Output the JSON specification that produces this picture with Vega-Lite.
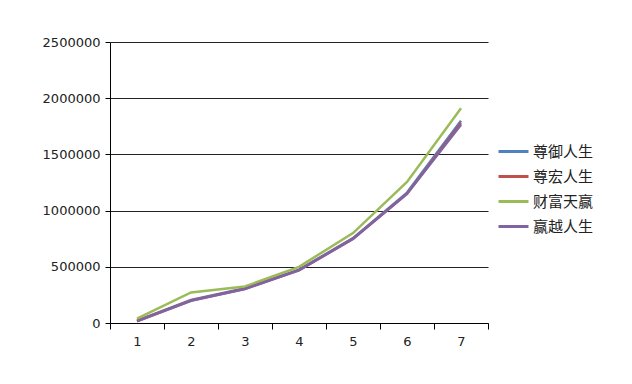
{
  "$schema": "https://vega.github.io/schema/vega-lite/v6.json",
  "autosize": "none",
  "width": 378,
  "height": 281,
  "padding": {"left": 110, "top": 42, "right": 144, "bottom": 61},
  "background": "white",
  "config": {
    "view": {"stroke": null},
    "font": "DejaVu Sans"
  },
  "data": {
    "values": [
      {"x": "1", "s": "尊御人生", "v": 20000},
      {"x": "2", "s": "尊御人生", "v": 205000},
      {"x": "3", "s": "尊御人生", "v": 310000},
      {"x": "4", "s": "尊御人生", "v": 475000},
      {"x": "5", "s": "尊御人生", "v": 755000},
      {"x": "6", "s": "尊御人生", "v": 1160000},
      {"x": "7", "s": "尊御人生", "v": 1800000},
      {"x": "1", "s": "尊宏人生", "v": 18000},
      {"x": "2", "s": "尊宏人生", "v": 200000},
      {"x": "3", "s": "尊宏人生", "v": 305000},
      {"x": "4", "s": "尊宏人生", "v": 470000},
      {"x": "5", "s": "尊宏人生", "v": 750000},
      {"x": "6", "s": "尊宏人生", "v": 1150000},
      {"x": "7", "s": "尊宏人生", "v": 1780000},
      {"x": "1", "s": "财富天赢", "v": 40000},
      {"x": "2", "s": "财富天赢", "v": 272000},
      {"x": "3", "s": "财富天赢", "v": 325000},
      {"x": "4", "s": "财富天赢", "v": 500000},
      {"x": "5", "s": "财富天赢", "v": 800000},
      {"x": "6", "s": "财富天赢", "v": 1255000},
      {"x": "7", "s": "财富天赢", "v": 1910000},
      {"x": "1", "s": "赢越人生", "v": 15000},
      {"x": "2", "s": "赢越人生", "v": 198000},
      {"x": "3", "s": "赢越人生", "v": 303000},
      {"x": "4", "s": "赢越人生", "v": 468000},
      {"x": "5", "s": "赢越人生", "v": 748000},
      {"x": "6", "s": "赢越人生", "v": 1148000},
      {"x": "7", "s": "赢越人生", "v": 1765000}
    ]
  },
  "mark": {"type": "line", "strokeWidth": 2.5},
  "encoding": {
    "x": {
      "field": "x",
      "type": "ordinal",
      "bandPosition": 0.5,
      "scale": {"type": "band", "paddingInner": 0, "paddingOuter": 0},
      "axis": {
        "title": null,
        "labelAngle": 0,
        "tickBand": "extent",
        "domainColor": "#000",
        "tickColor": "#000",
        "tickSize": 6,
        "labelPadding": 6,
        "labelFontSize": 13,
        "labelColor": "#222",
        "grid": false
      }
    },
    "y": {
      "field": "v",
      "type": "quantitative",
      "scale": {"domain": [0, 2500000], "nice": false},
      "axis": {
        "title": null,
        "values": [0, 500000, 1000000, 1500000, 2000000, 2500000],
        "format": "d",
        "grid": true,
        "gridColor": "#222",
        "gridOpacity": 1,
        "domainColor": "#000",
        "tickColor": "#000",
        "tickSize": 5,
        "labelPadding": 5,
        "labelFontSize": 13,
        "labelColor": "#222"
      }
    },
    "color": {
      "field": "s",
      "type": "nominal",
      "sort": ["尊御人生", "尊宏人生", "财富天赢", "赢越人生"],
      "scale": {
        "domain": ["尊御人生", "尊宏人生", "财富天赢", "赢越人生"],
        "range": ["#4F81BD", "#C0504D", "#9BBB59", "#8064A2"]
      },
      "legend": {
        "title": null,
        "orient": "none",
        "legendX": 387,
        "legendY": 93,
        "symbolType": "stroke",
        "symbolSize": 900,
        "symbolStrokeWidth": 3,
        "labelFont": "Noto Sans CJK SC",
        "labelFontSize": 15,
        "labelColor": "#222",
        "rowPadding": -8,
        "labelOffset": 3
      }
    },
    "order": {"field": "s"}
  }
}
